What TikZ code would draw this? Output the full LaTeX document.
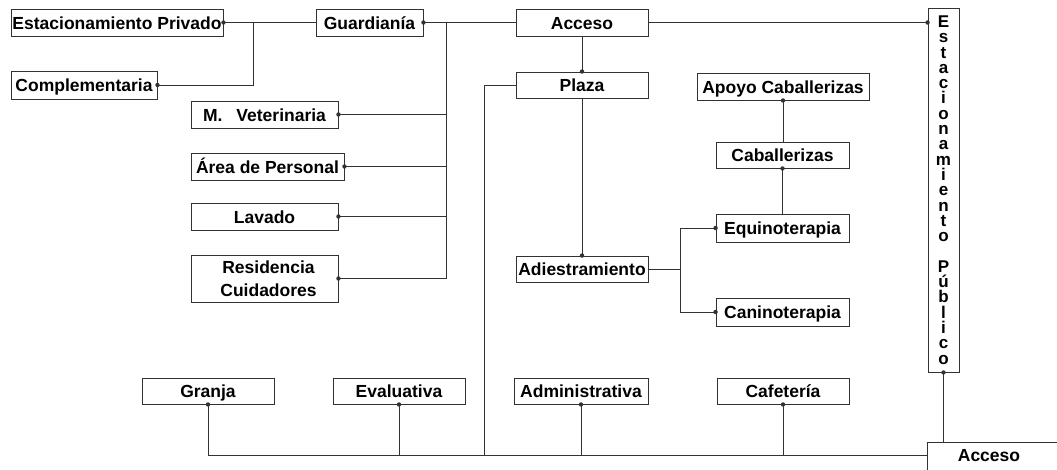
\documentclass[tikz,border=0pt]{standalone}
\usepackage{fontspec}
\setmainfont{Liberation Sans}
\definecolor{lc}{RGB}{50,50,50}
\newcommand\jdot[1]{\fill[lc] (#1) circle (2.2pt);}
\begin{document}
\begin{tikzpicture}[x=1pt,y=-1pt,
  box/.style={draw=lc, line width=0.9pt, inner sep=0pt, text=black,
    font=\bfseries\fontsize{17.5}{23}\selectfont},
  onel/.style={box, text height=14.5pt, text depth=1.5pt},
  conn/.style={draw=lc, line width=0.9pt}]
\fill[white] (0,0) rectangle (1057,469);
\clip (0,0) rectangle (1057,469);
% left group
\node[onel, minimum width=212pt, minimum height=27pt] (ep) at (117,22.5) {Estacionamiento Privado};
\node[onel, minimum width=146pt, minimum height=28pt] (comp) at (84,85) {Complementaria};
\node[onel, minimum width=107pt, minimum height=27pt] (guard) at (369.5,22.5) {Guardianía};
\node[onel, minimum width=147pt, minimum height=27pt] (vet) at (264.5,114.5) {M.\hspace{14pt}Veterinaria};
\node[onel, minimum width=153pt, minimum height=27pt] (area) at (267.5,166.5) {Área de Personal};
\node[onel, minimum width=147pt, minimum height=27pt] (lav) at (264.5,216.5) {Lavado};
\node[box, minimum width=147pt, minimum height=47pt, align=center] (resid) at (264.5,278.5) {\hspace{8pt}Residencia\\\hspace{8pt}Cuidadores};
% centre
\node[onel, minimum width=132pt, minimum height=27pt] (acc1) at (582,22.5) {Acceso};
\node[onel, minimum width=132pt, minimum height=26pt] (plaza) at (582,85) {Plaza};
\node[onel, minimum width=132pt, minimum height=26pt] (adiest) at (582,269) {Adiestramiento};
\node[onel, minimum width=172pt, minimum height=27pt] (apoyo) at (783,86.5) {Apoyo Caballerizas};
\node[onel, minimum width=133pt, minimum height=26pt] (cab) at (782.5,155) {Caballerizas\hspace{16pt}};
\node[onel, minimum width=133pt, minimum height=28pt] (equino) at (782.5,228) {Equinoterapia};
\node[onel, minimum width=133pt, minimum height=28pt] (canino) at (782.5,312) {Caninoterapia};
% right
\node[box, minimum width=31pt, minimum height=364pt, align=center,
  font=\bfseries\fontsize{17}{15.3}\selectfont] (estpub) at (943.5,190)
  {E\\s\\t\\a\\c\\i\\o\\n\\a\\m\\i\\e\\n\\t\\o\\~\\P\\ú\\b\\l\\i\\c\\o};
\node[box, minimum width=160pt, minimum height=45pt] (acc2) at (1007,464.5) {};
\node[onel, draw=none] (acc2txt) at (989,455) {Acceso};
% bottom row
\node[onel, minimum width=132pt, minimum height=26pt] (granja) at (208,391) {Granja\hspace{28pt}};
\node[onel, minimum width=132pt, minimum height=26pt] (eval) at (399,391) {Evaluativa};
\node[onel, minimum width=134pt, minimum height=26pt] (admin) at (581,391) {Administrativa};
\node[onel, minimum width=132pt, minimum height=26pt] (cafe) at (783,391) {Cafetería};
% junction coordinates
\coordinate (j1) at (253,22.5);
\coordinate (j2) at (446,22.5);
\coordinate (j3) at (484,455);
\coordinate (j4) at (927,455);
\coordinate (j5) at (680,269);
% connectors
\draw[conn] (ep.east) -- (guard.west);
\draw[conn] (comp.east) -| (j1);
\draw[conn] (guard.east) -- (acc1.west);
\draw[conn] (j2) -- (j2 |- resid.east);
\draw[conn] (vet.east) -- (vet.east -| j2);
\draw[conn] (area.east) -- (area.east -| j2);
\draw[conn] (lav.east) -- (lav.east -| j2);
\draw[conn] (resid.east) -- (resid.east -| j2);
\draw[conn] (acc1.east) -- (estpub.west |- acc1.east);
\draw[conn] (acc1.south) -- (plaza.north);
\draw[conn] (plaza.south) -- (adiest.north);
\draw[conn] (plaza.west) -| (j3);
\draw[conn] (granja.south) |- (j4);
\draw[conn] (eval.south) -- (eval.south |- j4);
\draw[conn] (admin.south) -- (admin.south |- j4);
\draw[conn] (cafe.south) -- (cafe.south |- j4);
\draw[conn] (estpub.south) -- (estpub.south |- acc2.north);
\draw[conn] (apoyo.south) -- (apoyo.south |- cab.north);
\draw[conn] (cab.south) -- (cab.south |- equino.north);
\draw[conn] (adiest.east) -- (j5);
\draw[conn] (j5 |- equino.west) -- (j5 |- canino.west);
\draw[conn] (j5 |- equino.west) -- (equino.west);
\draw[conn] (j5 |- canino.west) -- (canino.west);
% dots
\jdot{ep.east} \jdot{comp.east} \jdot{guard.east}
\jdot{vet.east} \jdot{area.east} \jdot{lav.east} \jdot{resid.east}
\jdot{estpub.west |- acc1.east}
\jdot{plaza.north} \jdot{adiest.north}
\jdot{apoyo.south} \jdot{cab.south}
\jdot{equino.west} \jdot{canino.west}
\jdot{granja.south} \jdot{eval.south} \jdot{admin.south} \jdot{cafe.south}
\jdot{estpub.south}
\end{tikzpicture}
\end{document}
